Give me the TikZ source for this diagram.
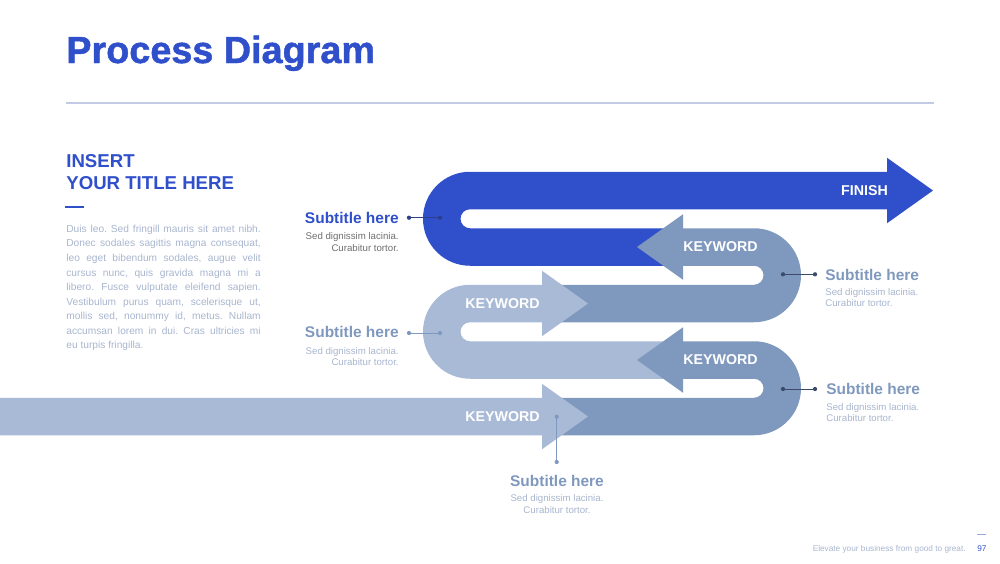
\documentclass[tikz,border=0pt]{standalone}
\usepackage{fontspec}
\setmainfont{Liberation Sans}
\newfontfamily\heavyfont{Liberation Sans}[BoldFont={Liberation Sans Bold}, BoldFeatures={FakeBold=1.2}]
\usepackage{tikz}
\usetikzlibrary{positioning}

\definecolor{pdblue}{HTML}{2F4FCB}
\definecolor{pdsteel}{HTML}{7F98BE}
\definecolor{pdlight}{HTML}{A9BAD6}
\definecolor{pdgrey}{HTML}{6E6E6E}
\definecolor{pdpale}{HTML}{A8B5CE}
\definecolor{pdnavy}{HTML}{2C3E8C}
\definecolor{pdslate}{HTML}{3D4B6A}
\definecolor{pdrule}{HTML}{C3CAE4}

\begin{document}
\begin{tikzpicture}[x=0.2mm, y=-0.2mm,
    kw/.style={text=white, font=\fontsize{8.1}{9}\selectfont\bfseries, inner sep=0pt},
    subhead/.style={font=\fontsize{8.8}{10}\selectfont\bfseries, inner sep=0pt},
    subbody/.style={font=\fontsize{5.5}{6.5}\selectfont, inner sep=0pt},
    tipdot/.style={circle, fill, inner sep=0pt, minimum size=0.85mm}]

    \useasboundingbox (0,0) rectangle (1000,563);

    % Header
    \node[anchor=base west, inner sep=0pt, text=pdblue, font=\fontsize{21.5}{25}\heavyfont\bfseries] (title) at (66,63) {Process Diagram};
    \coordinate (ruleL) at (66,103);
    \coordinate (ruleR) at (934,103);
    \draw[pdrule, line width=0.6pt] (ruleL) -- (ruleR);

    % Left column
    \node[anchor=north west, inner sep=0pt, align=left, text=pdblue, font=\fontsize{10.6}{13}\selectfont\bfseries] (heading) at (66,153.7) {INSERT\\YOUR TITLE HERE};
    \coordinate (dashL) at (65,207);
    \coordinate (dashR) at (84,207);
    \draw[pdblue, line width=1.2pt] (dashL) -- (dashR);
    \node[anchor=north west, inner sep=0pt, text width=110.6pt, align=justify, text=pdpale, font=\fontsize{5.8}{8.29}\selectfont] (intro) at (66,224.6) {\tolerance=10000\frenchspacing\noindent
        Duis leo. Sed fringill mauris sit amet nibh.\linebreak
        Donec sodales sagittis magna consequat,\linebreak
        leo eget bibendum sodales, augue velit\linebreak
        cursus nunc, quis gravida magna mi a\linebreak
        libero. Fusce vulputate eleifend sapien.\linebreak
        Vestibulum purus quam, scelerisque ut,\linebreak
        mollis sed, nonummy id, metus. Nullam\linebreak
        accumsan lorem in dui. Cras ultricies mi\linebreak
        eu turpis fringilla.};

    % Snake, back to front
    \fill[pdblue] (665,265.75) -- (470,265.75) arc[start angle=90, end angle=270, radius=47]
        -- (887,171.75) -- (887,157.75) -- (933,190.5) -- (887,223.25) -- (887,209.25)
        -- (470,209.25) arc[start angle=270, end angle=90, radius=9.5] -- (665,228.25) -- cycle;
    \fill[pdsteel] (637,247) -- (683,214.25) -- (683,228.25) -- (754,228.25) arc[start angle=270, end angle=450, radius=47]
        -- (560,322.25) -- (560,284.75) -- (754,284.75) arc[start angle=450, end angle=270, radius=9.5]
        -- (683,265.75) -- (683,279.75) -- cycle;
    \fill[pdlight] (588,303.5) -- (542,336.25) -- (542,322.25) -- (470,322.25) arc[start angle=270, end angle=90, radius=9.5]
        -- (665,341.25) -- (665,378.75) -- (470,378.75) arc[start angle=90, end angle=270, radius=47]
        -- (542,284.75) -- (542,270.75) -- cycle;
    \fill[pdsteel] (637,360) -- (683,327.25) -- (683,341.25) -- (754,341.25) arc[start angle=270, end angle=450, radius=47]
        -- (560,435.25) -- (560,397.75) -- (754,397.75) arc[start angle=450, end angle=270, radius=9.5]
        -- (683,378.75) -- (683,392.75) -- cycle;
    \fill[pdlight] (0,397.75) -- (542,397.75) -- (542,383.75) -- (588,416.5) -- (542,449.25) -- (542,435.25) -- (0,435.25) -- cycle;

    % Keywords
    \node[kw] (finish) at (864.5,190.5) {FINISH};
    \node[kw] (kw2) at (720.5,247) {KEYWORD};
    \node[kw] (kw3) at (502.5,303.5) {KEYWORD};
    \node[kw] (kw4) at (720.5,360) {KEYWORD};
    \node[kw] (kw5) at (502.5,416.5) {KEYWORD};

    % Subtitles
    \node[subhead, text=pdblue, anchor=base east] (sub1) at (399,223.5) {Subtitle here};
    \node[subbody, text=pdgrey, anchor=north east, align=right] (txt1) at (399,232.5) {Sed dignissim lacinia.\\Curabitur tortor.};
    \node[subhead, text=pdsteel, anchor=base east] (sub2) at (399,337.5) {Subtitle here};
    \node[subbody, text=pdpale, anchor=north east, align=right] (txt2) at (399,347) {Sed dignissim lacinia.\\Curabitur tortor.};
    \node[subhead, text=pdsteel, anchor=base west] (sub3) at (825,280) {Subtitle here};
    \node[subbody, text=pdpale, anchor=north west, align=left] (txt3) at (825,288) {Sed dignissim lacinia.\\Curabitur tortor.};
    \node[subhead, text=pdsteel, anchor=base west] (sub4) at (826,394.3) {Subtitle here};
    \node[subbody, text=pdpale, anchor=north west, align=left] (txt4) at (826,403) {Sed dignissim lacinia.\\Curabitur tortor.};
    \node[subhead, text=pdsteel, anchor=base] (sub5) at (557,486.5) {Subtitle here};
    \node[subbody, text=pdpale, anchor=north, align=center] (txt5) at (557,494.5) {Sed dignissim lacinia.\\Curabitur tortor.};

    % Pointers
    \node[tipdot, pdnavy] (p1a) at (409,217.7) {};
    \node[tipdot, pdnavy] (p1b) at (440,217.7) {};
    \draw[pdnavy, line width=0.5pt] (p1a) -- (p1b);
    \node[tipdot, pdsteel] (p2a) at (409,333) {};
    \node[tipdot, pdsteel] (p2b) at (440,333) {};
    \draw[pdsteel, line width=0.5pt] (p2a) -- (p2b);
    \node[tipdot, pdslate] (p3a) at (783,274.3) {};
    \node[tipdot, pdslate] (p3b) at (815,274.3) {};
    \draw[pdslate, line width=0.5pt] (p3a) -- (p3b);
    \node[tipdot, pdslate] (p4a) at (783,389) {};
    \node[tipdot, pdslate] (p4b) at (815,389) {};
    \draw[pdslate, line width=0.5pt] (p4a) -- (p4b);
    \node[tipdot, pdsteel] (p5a) at (556.7,416.7) {};
    \node[tipdot, pdsteel] (p5b) at (556.7,462) {};
    \draw[pdsteel, line width=0.5pt] (p5a) -- (p5b);

    % Footer
    \node[anchor=base east, inner sep=0pt, text=pdpale, font=\fontsize{4.7}{5.5}\selectfont] (slogan) at (966,551.5) {Elevate your business from good to great.};
    \node[anchor=base west, inner sep=0pt, text=pdblue, font=\fontsize{4.7}{5.5}\selectfont] (page) at (977,551.5) {97};
    \coordinate (markL) at (977,534);
    \coordinate (markR) at (986,534);
    \draw[pdblue!50, line width=0.4pt] (markL) -- (markR);

\end{tikzpicture}
\end{document}
